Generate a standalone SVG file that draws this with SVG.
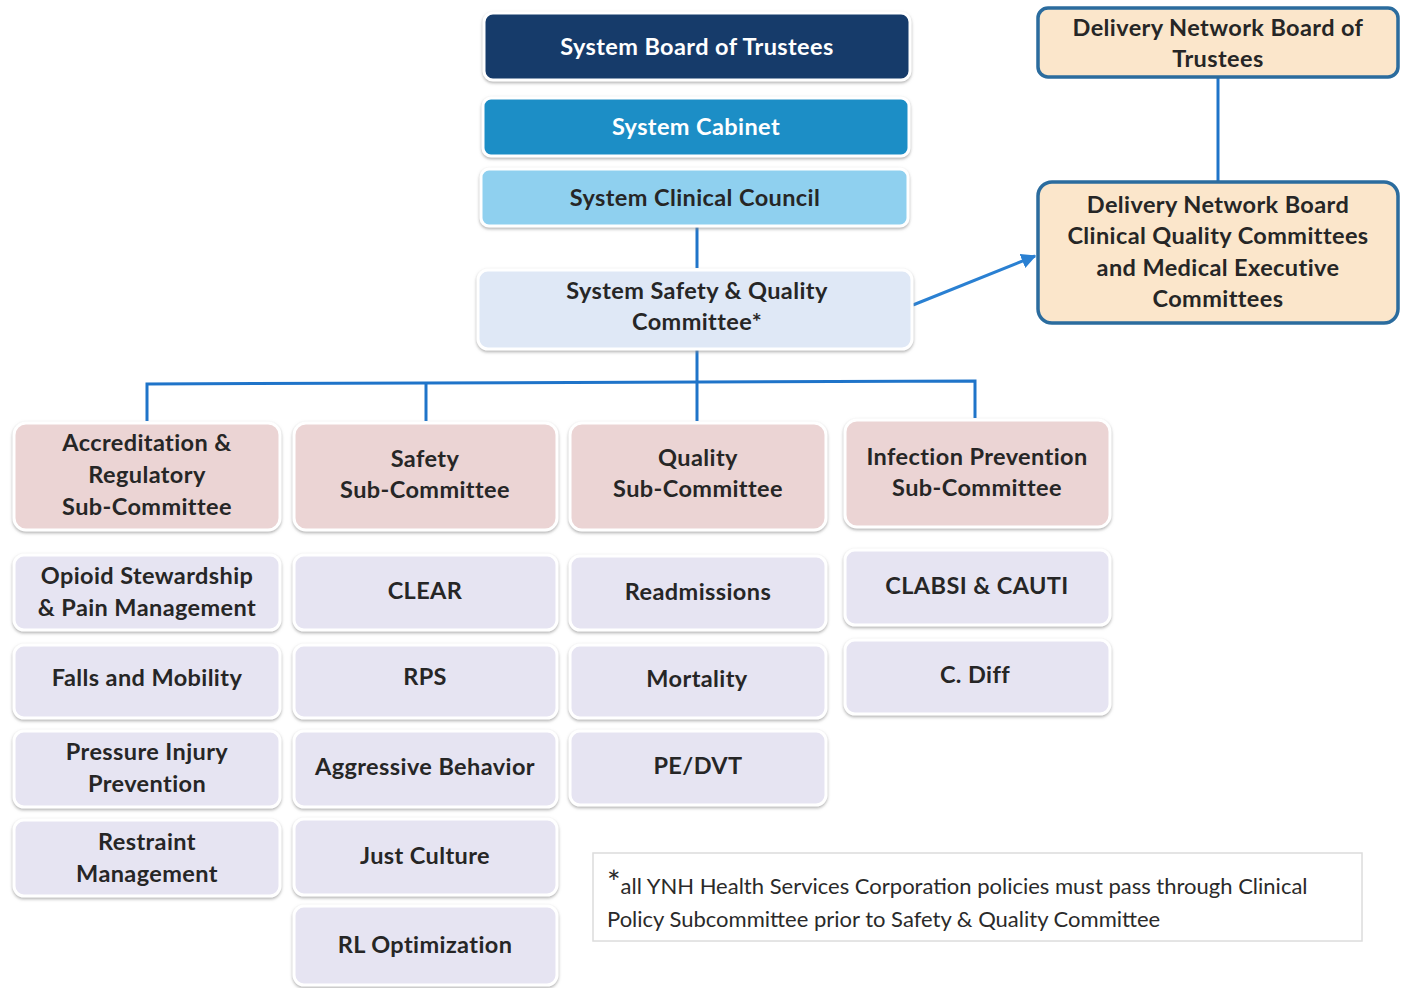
<svg xmlns="http://www.w3.org/2000/svg" width="1401" height="988" viewBox="0 0 1401 988">
  <defs>
    <filter id="shadow" x="-5%" y="-10%" width="110%" height="125%">
      <feDropShadow dx="0" dy="1.5" stdDeviation="1.5" flood-color="#8a8a8a" flood-opacity="0.7"/>
    </filter>
    <marker id="arrow" viewBox="0 0 10 10" refX="9" refY="5" markerWidth="5" markerHeight="5" orient="auto">
      <path d="M0,0 L10,5 L0,10 z" fill="#2a80d2"/>
    </marker>
    <style>
      .box { stroke: #ffffff; stroke-width: 3; filter: url(#shadow); }
      .navy { fill: #133a6a; }
      .teal { fill: #1f8ec6; }
      .sky { fill: #8fd0ef; }
      .ice { fill: #dfe8f6; }
      .rose { fill: #ebd4d4; }
      .lilac { fill: #e6e4f2; }
      .dn { fill: #fbe6cb; stroke: #2b6c9e; stroke-width: 3.5; }
      .note { fill: #ffffff; stroke: #dcdcdc; stroke-width: 1.5; }
      text { font-family: Lato, "Open Sans", "Liberation Sans", sans-serif; font-weight: 700; font-size: 23.5px; letter-spacing: 0.4px; fill: #262626; text-anchor: middle; }
      text.light { fill: #ffffff; }
      text.foot { font-weight: 400; font-size: 22px; letter-spacing: 0; text-anchor: start; fill: #2a2a2a; }
      .link { stroke: #1f74c9; stroke-width: 3; fill: none; }
      .arrowline { stroke: #2a80d2; stroke-width: 3; fill: none; }
    </style>
  </defs>

  <rect width="1401" height="988" fill="#ffffff"/>

  <!-- connectors -->
  <g id="connectors">
    <line class="link" x1="697" y1="227" x2="697" y2="268"/>
    <line class="link" x1="697" y1="350" x2="697" y2="383"/>
    <polyline class="link" points="147,421 147,384 975,381 975,418"/>
    <line class="link" x1="426" y1="383" x2="426" y2="421"/>
    <line class="link" x1="697" y1="382" x2="697" y2="421"/>
    <line class="link" x1="1218" y1="78" x2="1218" y2="181"/>
    <line class="arrowline" x1="913" y1="305" x2="1035" y2="256" marker-end="url(#arrow)"/>
  </g>

  <!-- governance chain -->
  <g id="board">
    <rect class="box navy" x="484" y="13" width="426" height="67" rx="9"/>
    <text class="light" x="697" y="55">System Board of Trustees</text>
  </g>
  <g id="cabinet">
    <rect class="box teal" x="483" y="98" width="426" height="58" rx="8"/>
    <text class="light" x="696" y="135">System Cabinet</text>
  </g>
  <g id="clinical-council">
    <rect class="box sky" x="481" y="169" width="427" height="57" rx="8"/>
    <text x="695" y="206">System Clinical  Council</text>
  </g>
  <g id="safety-quality">
    <rect class="box ice" x="478" y="270" width="434" height="79" rx="10"/>
    <text x="697" y="299">System Safety &amp; Quality</text>
    <text x="697" y="330">Committee*</text>
  </g>

  <!-- delivery network -->
  <g id="dn-trustees">
    <rect class="dn" x="1038" y="8" width="360" height="69" rx="10"/>
    <text x="1218" y="36">Delivery Network Board of</text>
    <text x="1218" y="67">Trustees</text>
  </g>
  <g id="dn-quality">
    <rect class="dn" x="1038" y="182" width="360" height="141" rx="14"/>
    <text x="1218" y="213">Delivery Network Board</text>
    <text x="1218" y="244">Clinical  Quality Committees</text>
    <text x="1218" y="276">and Medical  Executive</text>
    <text x="1218" y="307">Committees</text>
  </g>

  <!-- sub-committees -->
  <g id="accreditation">
    <rect class="box rose" x="14" y="423" width="266" height="107" rx="12"/>
    <text x="147" y="451">Accreditation  &amp;</text>
    <text x="147" y="483">Regulatory</text>
    <text x="147" y="515">Sub-Committee</text>
  </g>
  <g id="safety">
    <rect class="box rose" x="294" y="423" width="263" height="107" rx="12"/>
    <text x="425" y="467">Safety</text>
    <text x="425" y="498">Sub-Committee</text>
  </g>
  <g id="quality">
    <rect class="box rose" x="570" y="423" width="256" height="107" rx="12"/>
    <text x="698" y="466">Quality</text>
    <text x="698" y="497">Sub-Committee</text>
  </g>
  <g id="infection">
    <rect class="box rose" x="845" y="420" width="265" height="107" rx="12"/>
    <text x="977" y="465">Infection Prevention</text>
    <text x="977" y="496">Sub-Committee</text>
  </g>

  <!-- workgroups: accreditation column -->
  <g id="opioid">
    <rect class="box lilac" x="14" y="555" width="266" height="75" rx="10"/>
    <text x="147" y="584">Opioid Stewardship</text>
    <text x="147" y="616">&amp; Pain Management</text>
  </g>
  <g id="falls">
    <rect class="box lilac" x="14" y="645" width="266" height="73" rx="10"/>
    <text x="147" y="686">Falls and Mobility</text>
  </g>
  <g id="pressure">
    <rect class="box lilac" x="14" y="731" width="266" height="76" rx="10"/>
    <text x="147" y="760">Pressure Injury</text>
    <text x="147" y="792">Prevention</text>
  </g>
  <g id="restraint">
    <rect class="box lilac" x="14" y="820" width="266" height="76" rx="10"/>
    <text x="147" y="850">Restraint</text>
    <text x="147" y="882">Management</text>
  </g>

  <!-- workgroups: safety column -->
  <g id="clear">
    <rect class="box lilac" x="294" y="555" width="263" height="75" rx="10"/>
    <text x="425" y="599">CLEAR</text>
  </g>
  <g id="rps">
    <rect class="box lilac" x="294" y="645" width="263" height="73" rx="10"/>
    <text x="425" y="685">RPS</text>
  </g>
  <g id="aggressive">
    <rect class="box lilac" x="294" y="731" width="263" height="76" rx="10"/>
    <text x="425" y="775">Aggressive Behavior</text>
  </g>
  <g id="just-culture">
    <rect class="box lilac" x="294" y="819" width="263" height="76" rx="10"/>
    <text x="425" y="864">Just Culture</text>
  </g>
  <g id="rl-optimization">
    <rect class="box lilac" x="294" y="906" width="263" height="79" rx="10"/>
    <text x="425" y="953">RL Optimization</text>
  </g>

  <!-- workgroups: quality column -->
  <g id="readmissions">
    <rect class="box lilac" x="570" y="556" width="256" height="74" rx="10"/>
    <text x="698" y="600">Readmissions</text>
  </g>
  <g id="mortality">
    <rect class="box lilac" x="570" y="645" width="256" height="73" rx="10"/>
    <text x="697" y="687">Mortality</text>
  </g>
  <g id="pe-dvt">
    <rect class="box lilac" x="570" y="731" width="256" height="74" rx="10"/>
    <text x="698" y="774">PE/DVT</text>
  </g>

  <!-- workgroups: infection column -->
  <g id="clabsi">
    <rect class="box lilac" x="845" y="550" width="265" height="75" rx="10"/>
    <text x="977" y="594">CLABSI &amp; CAUTI</text>
  </g>
  <g id="cdiff">
    <rect class="box lilac" x="845" y="640" width="265" height="74" rx="10"/>
    <text x="975" y="683">C. Diff</text>
  </g>

  <!-- footnote -->
  <g id="footnote">
    <rect class="note" x="593" y="853" width="769" height="88"/>
    <text class="foot" x="607" y="894"><tspan font-size="32">*</tspan><tspan>all YNH Health Services Corporation  policies must pass through  Clinical</tspan></text>
    <text class="foot" x="607" y="927">Policy Subcommittee  prior to Safety &amp; Quality Committee</text>
  </g>
</svg>
